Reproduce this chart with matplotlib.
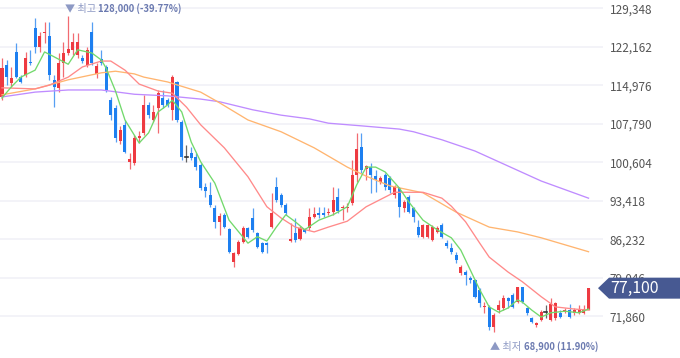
import matplotlib
matplotlib.use("Agg")
import matplotlib.pyplot as plt
from matplotlib.patches import Polygon, Rectangle
import numpy as np

# daily candles (oldest -> newest), KRW
opens = [112800, 118800, 115400, 121200, 116500, 116900, 119300, 125700, 122100, 124700,
         124200, 116000, 114500, 119100, 121000, 121600, 120600, 120100, 118800, 124900,
         117100, 119900, 118400, 112200, 110700, 104600, 107600, 100700, 100500, 105100,
         106100, 111300, 108500, 110700, 112600, 112200, 110400, 115600, 108100, 101600,
         102300, 101600, 100100, 96000, 94500, 92100, 89500, 90800, 88100, 82000,
         83500, 85700, 88300, 90200, 87400, 85500, 85500, 88500, 96000, 94500,
         92600, 85900, 87400, 86300, 88100, 88300, 90400, 91100, 91100, 91100,
         91300, 94100, 92100, 92100, 93000, 98200, 103500, 99300, 99700, 98000,
         96900, 98200, 97700, 94500, 95800, 92100, 94100, 92100, 88500, 86700,
         86700, 86100, 87600, 88900, 85500, 84600, 83300, 79900, 80100, 79000,
         78600, 76800, 73600, 73600, 69800, 73000, 73400, 75300, 75800, 74500,
         77300, 73400, 71500, 70200, 71200, 72600, 71200, 71500, 72500, 72600,
         73000, 72500, 72500, 72500, 73200]
highs = [120100, 119700, 118400, 122900, 116900, 121200, 121600, 127500, 124900, 126800,
         126800, 116900, 121000, 123100, 128000, 124700, 124700, 120600, 122100, 126800,
         119100, 121600, 118800, 112800, 111300, 107400, 108500, 102300, 105700, 106400,
         113200, 111900, 111300, 114100, 114100, 112600, 116900, 115800, 108500, 103800,
         103500, 102300, 100500, 96700, 96900, 92600, 91100, 91100, 88300, 83800,
         86100, 88700, 88500, 92100, 87600, 85700, 85700, 94900, 97900, 94900,
         93000, 89300, 90200, 88700, 88300, 92100, 92300, 92300, 92300, 92100,
         96000, 95800, 92600, 93000, 101000, 106100, 106100, 100100, 100500, 99200,
         98000, 98600, 98000, 96400, 96000, 93600, 94500, 92300, 89800, 89100,
         89100, 88900, 88700, 89300, 86100, 85500, 83800, 81400, 80500, 79400,
         78800, 77100, 74500, 74000, 72500, 74900, 75800, 75400, 76200, 77300,
         77300, 73600, 71700, 70800, 73000, 74000, 75300, 74500, 73000, 73400,
         74100, 73400, 74000, 74000, 77100]
lows = [112200, 115000, 114700, 116300, 115400, 116500, 118800, 121000, 121200, 122900,
        116000, 110900, 113700, 116500, 120600, 120600, 120100, 119100, 118400, 118800,
        116300, 118800, 113700, 108500, 104400, 104000, 102300, 99300, 100100, 104200,
        105700, 108900, 108100, 106100, 110700, 110900, 108500, 108100, 101000, 100700,
        101000, 99200, 95400, 94100, 92300, 88300, 87000, 88300, 83700, 81000,
        83300, 85500, 86500, 87600, 84600, 83700, 83700, 88300, 93200, 92300,
        90800, 85700, 85700, 86100, 87400, 87900, 90200, 90200, 90400, 90800,
        90800, 91100, 89800, 91300, 92600, 96900, 98600, 97300, 94900, 95100,
        96500, 95400, 94900, 93900, 90400, 91300, 91100, 89500, 86700, 86500,
        86500, 85900, 87400, 86500, 84600, 83500, 81800, 79600, 77700, 78100,
        75300, 73600, 72500, 69300, 68900, 72500, 73000, 73400, 73400, 74300,
        74300, 72100, 70600, 69800, 71000, 71500, 71000, 71200, 71500, 72500,
        71500, 72100, 72300, 72300, 73000]
closes = [118200, 116500, 116300, 116500, 115600, 120100, 119100, 122100, 124200, 124900,
          116900, 114700, 119100, 121000, 121800, 123100, 123100, 119500, 121600, 119100,
          118600, 119100, 114100, 109400, 105100, 106600, 102500, 101200, 105100, 105500,
          111300, 109400, 110000, 113500, 111300, 111300, 116500, 108500, 101600, 101600,
          101400, 99700, 95800, 95200, 92600, 89500, 90600, 88500, 83800, 83700,
          85700, 88300, 86700, 88000, 84800, 83800, 85200, 91100, 93600, 92600,
          91100, 86300, 86100, 88300, 87600, 90400, 90900, 90800, 90800, 91300,
          93600, 91500, 92300, 92300, 98200, 103100, 99200, 99900, 98200, 97300,
          97700, 96000, 95400, 96000, 92300, 93200, 91300, 90400, 87000, 88900,
          88900, 88500, 88300, 86700, 85000, 83800, 82400, 81000, 79600, 78600,
          75400, 74300, 73800, 69800, 72100, 74000, 75300, 74700, 73600, 77300,
          74500, 72500, 70800, 70600, 72600, 72600, 74100, 74300, 71700, 73000,
          71700, 73000, 73200, 73200, 77100]

# moving averages (candle index, value)
ma5_idx = [0, 2, 4, 7, 9, 11, 14, 16, 19, 21, 22, 24, 26, 29, 31, 33, 35, 36, 38, 40,
           42, 45, 48, 52, 54, 56, 58, 60, 62, 64, 67, 70, 73, 75, 77, 79, 81, 84, 86, 89,
           92, 95, 97, 99, 101, 103, 105, 107, 109, 110, 112, 114, 116, 119, 122, 124]
ma5_val = [112600, 114700, 116500, 117800, 121200, 120300, 118900, 121600, 121000, 119700,
           118200, 113900, 108500, 104200, 106100, 110000, 111300, 112200, 110000, 104400,
           100700, 96700, 89800, 85500, 86700, 85900, 88500, 90800, 89500, 88000,
           89800, 90800, 92300, 96400, 99700, 99700, 98800, 95800, 93200, 89800,
           88000, 86500, 84200, 80500, 76800, 73600, 72600, 73400, 74900, 74500,
           73000, 71700, 72500, 72800, 72500, 73200]
ma20_idx = [0, 7, 10, 14, 17, 21, 23, 26, 29, 33, 36, 39, 42, 47, 52, 56, 59, 62, 66, 69,
            73, 77, 83, 89, 93, 95, 98, 101, 103, 107, 110, 114, 117, 121, 124]
ma20_val = [114500, 114300, 115000, 116500, 118400, 119500, 119500, 117800, 115200, 113900,
            113500, 110900, 107600, 103300, 97900, 92300, 90200, 88500, 87600, 88500,
            89600, 92300, 95000, 95000, 93900, 92400, 89500, 85500, 82900, 80100,
            78300, 75500, 73600, 73200, 73000]
ma60_idx = [0, 7, 14, 21, 24, 28, 30, 35, 42, 46, 52, 59, 66, 73, 77, 82, 89, 96, 103, 109,
            114, 119, 124]
ma60_val = [113200, 114300, 116000, 117300, 117600, 117100, 116500, 115600, 113700, 111700,
            108500, 106300, 103300, 99700, 98000, 96200, 94900, 91300, 88500, 87600,
            86500, 85200, 83900]
ma120_idx = [0, 7, 14, 21, 28, 35, 42, 46, 53, 59, 65, 69, 76, 84, 87, 93, 95, 100, 107, 114, 124]
ma120_val = [112800, 113700, 114100, 114100, 113300, 113000, 112400, 111900, 110400, 109400,
             108700, 107900, 107400, 106800, 106300, 104800, 104200, 102700, 99900, 97100, 93900]

ticks = [129348, 122162, 114976, 107790, 100604, 93418, 86232, 79046, 71860]

UP = '#ee3a41'
DOWN = '#1d7ff0'
FLAT = '#333333'
KFONT = ['Noto Sans CJK KR', 'DejaVu Sans']
plt.rcParams['font.family'] = KFONT

W, H = 680, 358
fig = plt.figure(figsize=(W / 100, H / 100), dpi=100)
ax = fig.add_axes([0, 0, 603 / W, 1])
ax.set_xlim(-0.42, 127.06)
ax.set_ylim(64059, 130898)

for t in ticks:
    ax.axhline(t, color='#f1f1f7', lw=1.2, zorder=0)

o = np.array(opens); h = np.array(highs); l = np.array(lows); c = np.array(closes)
x = np.arange(len(o))
bw = 0.64
for i in x:
    col = UP if c[i] > o[i] else (DOWN if c[i] < o[i] else FLAT)
    ax.plot([i, i], [l[i], h[i]], color=col, lw=0.9, alpha=0.75, zorder=2, solid_capstyle='butt')
    lo, hi = min(o[i], c[i]), max(o[i], c[i])
    if hi - lo < 150:
        ax.plot([i - bw / 2, i + bw / 2], [o[i], o[i]], color=col, lw=1.2, zorder=3)
    else:
        ax.add_patch(Rectangle((i - bw / 2, lo), bw, hi - lo, facecolor=col, edgecolor='none', zorder=3))

ax.plot(ma120_idx, ma120_val, color='#bf8cff', lw=0.95, zorder=4)
ax.plot(ma60_idx, ma60_val, color='#ffb570', lw=0.95, zorder=4)
ax.plot(ma20_idx, ma20_val, color='#ff8a8a', lw=0.95, zorder=4)
ax.plot(ma5_idx, ma5_val, color='#72d96c', lw=0.95, zorder=4)

for s in ax.spines.values():
    s.set_visible(False)
ax.set_xticks([])
ax.yaxis.tick_right()
ax.set_yticks(ticks)
ax.set_yticklabels([f'{t:,}' for t in ticks])
ax.tick_params(axis='y', length=0, pad=5, labelsize=8.5, labelcolor='#555555')

# high / low annotations
imax = int(np.argmax(h)); imin = int(np.argmin(l))
last = c[-1]
pct_hi = (last - h[imax]) / h[imax] * 100
pct_lo = (last - l[imin]) / l[imin] * 100
fig.canvas.draw()
r = fig.canvas.get_renderer()

def two_part(xi, yv, pre, main):
    t1 = ax.text(xi - 0.75, yv, pre, fontsize=7.3, color='#8d99c4', va='center', ha='left', zorder=6)
    fig.canvas.draw()
    bb = t1.get_window_extent(r)
    xd = ax.transData.inverted().transform((bb.x1 + 2, 0))[0]
    ax.text(xd, yv, main, fontsize=6.8, color='#6b7ab0', fontweight='bold', va='center', ha='left', zorder=6)

two_part(imax, 129250, '▼ 최고', f'{h[imax]:,} ({pct_hi:.2f}%)')
two_part(imin, 66150, '▲ 최저', f'{l[imin]:,} ({pct_lo:.2f}%)')

# last price tag
ylast = ax.transData.transform((0, last))[1]
pts = [(598, ylast), (609, ylast + 10.5), (W, ylast + 10.5), (W, ylast - 10.5), (609, ylast - 10.5)]
tag = Polygon([(px / W, py / H) for px, py in pts], closed=True, transform=fig.transFigure,
              facecolor='#475992', edgecolor='none', zorder=10)
fig.add_artist(tag)
fig.text(610 / W, ylast / H, f'{last:,}', color='white', fontsize=11.5, va='center', ha='left', zorder=11)

fig.savefig('out.png', dpi=100)
